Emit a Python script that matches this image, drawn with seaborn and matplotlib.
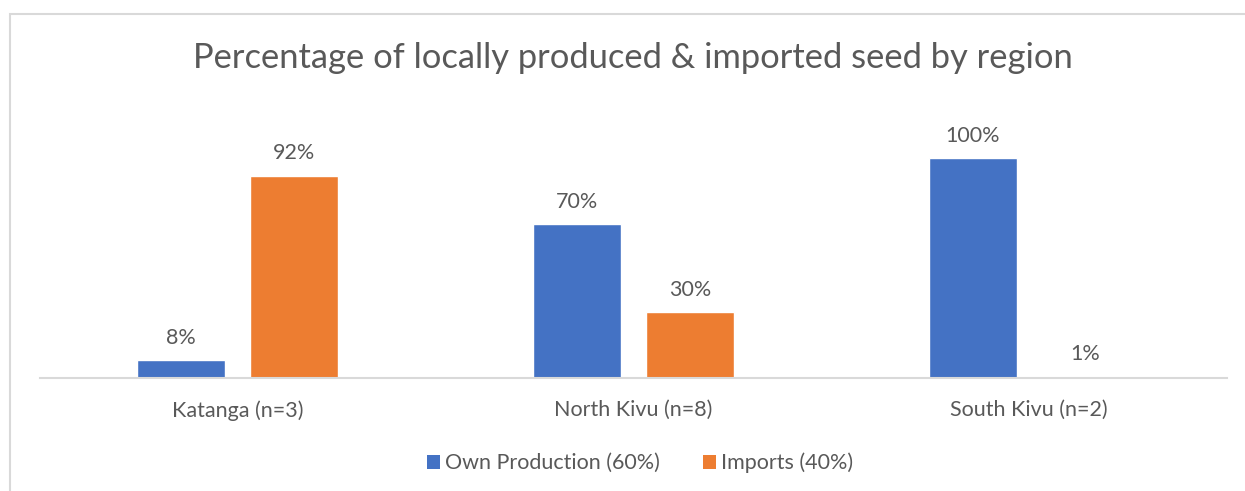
import matplotlib
matplotlib.use("Agg")
import matplotlib.pyplot as plt
import seaborn as sns
import pandas as pd
from matplotlib.patches import Rectangle, Patch

regions = ["Katanga (n=3)", "North Kivu (n=8)", "South Kivu (n=2)"]
own_production = [8, 70, 100]
imports = [92, 30, 0.5]
own_labels = ["8%", "70%", "100%"]
import_labels = ["92%", "30%", "1%"]
series_names = ["Own Production (60%)", "Imports (40%)"]
title = "Percentage of locally produced & imported seed by region"

df = pd.DataFrame({
    "region": regions * 2,
    "value": own_production + imports,
    "series": [series_names[0]] * 3 + [series_names[1]] * 3,
})

sns.set_theme(style="white")
plt.rcParams["font.family"] = ["Lato", "DejaVu Sans"]

colors = ["#4472C4", "#ED7D31"]
text_color = "#595959"

W, H = 1245, 491
fig = plt.figure(figsize=(W / 100, H / 100), dpi=100)
ax = fig.add_axes([40 / W, 1 - 378 / H, (1227 - 40) / W, (378 - 114) / H])

sns.barplot(data=df, x="region", y="value", hue="series", palette=colors,
            width=0.571, gap=0.221, ax=ax, legend=False, saturation=1)

ax.set_ylim(0, 120)
ax.set_xlim(-0.5, 2.5)
ax.set_yticks([])
ax.set_xlabel("")
ax.set_ylabel("")
for s in ["top", "right", "left"]:
    ax.spines[s].set_visible(False)
ax.spines["bottom"].set_color("#D9D9D9")
ax.spines["bottom"].set_linewidth(1.5)
ax.tick_params(axis="x", length=0, pad=16, labelsize=15.5, labelcolor=text_color)

for container, labels in zip(ax.containers, [own_labels, import_labels]):
    ax.bar_label(container, labels=labels, padding=9, fontsize=15.5, color=text_color)

fig.text(633 / W, 1 - 58 / H, title, ha="center", va="center", fontsize=24.8, color=text_color)

handles = [Patch(facecolor=c, edgecolor="none") for c in colors]
fig.legend(handles, series_names, loc="center", bbox_to_anchor=(640 / W, 1 - 463 / H),
           ncol=2, frameon=False, fontsize=15.5, labelcolor=text_color,
           handlelength=0.6, handleheight=0.6, handletextpad=0.25, columnspacing=2.0)

fig.patches.append(Rectangle((10 / W, -0.1), 1.2, 1 - 14 / H + 0.1, transform=fig.transFigure,
                             fill=False, edgecolor="#D9D9D9", linewidth=1.5))

fig.savefig("out.png", dpi=100)
